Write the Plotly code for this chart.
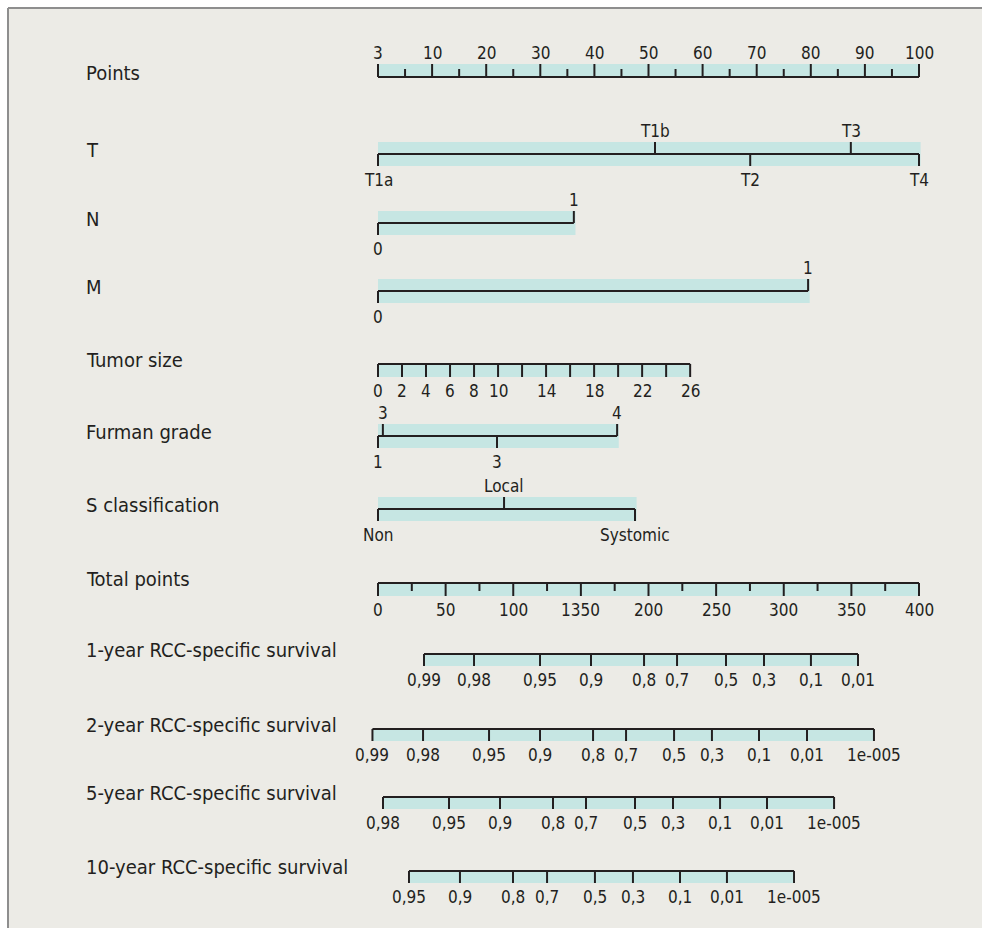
import plotly.graph_objects as go

# ---------------- data ----------------
row_names = ["Points", "T", "N", "M", "Tumor size", "Furman grade", "S classification",
             "Total points", "1-year RCC-specific survival", "2-year RCC-specific survival",
             "5-year RCC-specific survival", "10-year RCC-specific survival"]

points_ticks = [0, 10, 20, 30, 40, 50, 60, 70, 80, 90, 100]
points_labels = ["3", "10", "20", "30", "40", "50", "60", "70", "80", "90", "100"]
points_minor = [5, 15, 25, 35, 45, 55, 65, 75, 85, 95]

t_labels = ["T1a", "T1b", "T2", "T3", "T4"]
t_points = [0, 51.2, 68.8, 87.4, 100]

n_labels = ["0", "1"]
n_points = [0, 36.2]

m_labels = ["0", "1"]
m_points = [0, 79.5]

tumor_ticks = [0, 2, 4, 6, 8, 10, 12, 14, 16, 18, 20, 22, 24, 26]
tumor_labelled = [0, 2, 4, 6, 8, 10, 14, 18, 22, 26]
tumor_max_value = 26
tumor_max_points = 57.7

furman_labels = ["1", "3", "3", "4"]
furman_points = [0, 0.9, 22.0, 44.2]

s_labels = ["Non", "Local", "Systomic"]
s_points = [0, 23.3, 47.5]

total_ticks = [0, 50, 100, 150, 200, 250, 300, 350, 400]
total_labels = ["0", "50", "100", "1350", "200", "250", "300", "350", "400"]
total_minor = [25, 75, 125, 175, 225, 275, 325, 375]
total_max = 400
points_max = 100

surv1_labels = ["0,99", "0,98", "0,95", "0,9", "0,8", "0,7", "0,5", "0,3", "0,1", "0,01"]
surv1_total = [34.0, 71.0, 119.8, 157.5, 196.7, 221.1, 257.3, 285.4, 320.1, 354.9]

surv2_labels = ["0,99", "0,98", "0,95", "0,9", "0,8", "0,7", "0,5", "0,3", "0,1", "0,01", "1e-005"]
surv2_total = [-4.1, 33.3, 82.1, 119.8, 159.0, 183.4, 218.9, 246.9, 281.7, 317.2, 366.7]

surv5_labels = ["0,98", "0,95", "0,9", "0,8", "0,7", "0,5", "0,3", "0,1", "0,01", "1e-005"]
surv5_total = [3.7, 52.5, 90.2, 129.4, 153.8, 190.0, 218.1, 252.9, 287.6, 337.2]

surv10_labels = ["0,95", "0,9", "0,8", "0,7", "0,5", "0,3", "0,1", "0,01", "1e-005"]
surv10_total = [22.9, 60.6, 99.8, 125.0, 160.4, 188.5, 223.3, 258.0, 307.6]

# ---------------- styling / layout ----------------
W, H = 982, 928
X0_PX, PX_PER_PT = 378, 5.41
LINE_C = "#231f20"
BAND_C = "#c6e6e3"
PANEL_C = "#ecebe6"
BORDER_C = "#8e8e8e"
FONT = "DejaVu Sans Condensed, DejaVu Sans, sans-serif"
TICK_FS = 17
ROW_FS = 20

row_line_y = [77, 154, 223, 291, 364, 436, 509, 583, 654, 729, 797, 871]
LABEL_X_PX = 84
ROW_LABEL_DY = -4

shapes = []
annotations = []


def band(x0, x1, y0, y1):
    shapes.append(dict(type="rect", xref="x", yref="y", x0=x0, x1=x1, y0=y0, y1=y1,
                       fillcolor=BAND_C, line=dict(width=0), layer="above"))


def seg(x0, x1, y0, y1, w=2):
    shapes.append(dict(type="line", xref="x", yref="y", x0=x0, x1=x1, y0=y0, y1=y1,
                       line=dict(color=LINE_C, width=w), layer="above"))


def text(x, y, s, size=TICK_FS):
    annotations.append(dict(x=x, y=y, xref="x", yref="y", text=s, showarrow=False,
                            xanchor="center", yanchor="middle",
                            font=dict(family=FONT, size=size, color=LINE_C)))


# framed panel starting 8px from the top-left corner (border only on top/left)
shapes.append(dict(type="rect", xref="paper", yref="paper", x0=8 / W, x1=1,
                   y0=0, y1=1 - 8 / H, fillcolor=PANEL_C,
                   line=dict(width=0), layer="below"))
shapes.append(dict(type="line", xref="paper", yref="paper", x0=8 / W, x1=1,
                   y0=1 - 8 / H, y1=1 - 8 / H, line=dict(color=BORDER_C, width=2), layer="below"))
shapes.append(dict(type="line", xref="paper", yref="paper", x0=8 / W, x1=8 / W,
                   y0=0, y1=1 - 8 / H, line=dict(color=BORDER_C, width=2), layer="below"))

# row labels
for name, y in zip(row_names, row_line_y):
    annotations.append(dict(x=LABEL_X_PX / W, y=y + ROW_LABEL_DY, xref="paper", yref="y",
                            text=name, showarrow=False, xanchor="left", yanchor="middle",
                            font=dict(family=FONT, size=ROW_FS, color=LINE_C)))

MAJ, MIN, HB = 13, 8, 12

# Points axis (ticks up)
y = row_line_y[0]
band(points_ticks[0], points_ticks[-1], y - MAJ, y)
seg(points_ticks[0], points_ticks[-1], y, y)
for v, lab in zip(points_ticks, points_labels):
    seg(v, v, y, y - MAJ)
    text(v, y - 24, lab)
for v in points_minor:
    seg(v, v, y, y - MIN)


def categorical(y, labels, pts):
    order = sorted(range(len(pts)), key=lambda i: pts[i])
    lo, hi = min(pts), max(pts)
    band(lo, hi + 0.3, y - HB, y + HB)
    seg(lo, hi, y, y)
    for k, i in enumerate(order):
        if k % 2 == 0:
            seg(pts[i], pts[i], y, y + HB)
            text(pts[i], y + 26, labels[i])
        else:
            seg(pts[i], pts[i], y, y - HB)
            text(pts[i], y - 23, labels[i])


categorical(row_line_y[1], t_labels, t_points)
categorical(row_line_y[2], n_labels, n_points)
categorical(row_line_y[3], m_labels, m_points)

# Tumor size (ticks down)
y = row_line_y[4]
scale_t = tumor_max_points / tumor_max_value
band(0, tumor_max_value * scale_t, y, y + MAJ)
seg(0, tumor_max_value * scale_t, y, y)
for v in tumor_ticks:
    seg(v * scale_t, v * scale_t, y, y + MAJ)
for v in tumor_labelled:
    text(v * scale_t, y + 27, str(v))

categorical(row_line_y[5], furman_labels, furman_points)
categorical(row_line_y[6], s_labels, s_points)

# Total points (ticks down)
y = row_line_y[7]
tp = points_max / total_max
band(total_ticks[0] * tp, total_ticks[-1] * tp, y, y + MAJ)
seg(total_ticks[0] * tp, total_ticks[-1] * tp, y, y)
for v, lab in zip(total_ticks, total_labels):
    seg(v * tp, v * tp, y, y + MAJ)
    text(v * tp, y + 27, lab)
for v in total_minor:
    seg(v * tp, v * tp, y, y + MIN)


def survival(y, labels, totals):
    xs = [t * tp for t in totals]
    band(xs[0], xs[-1], y, y + HB)
    seg(xs[0], xs[-1], y, y)
    for x, lab in zip(xs, labels):
        seg(x, x, y, y + HB)
        text(x, y + 26, lab)


survival(row_line_y[8], surv1_labels, surv1_total)
survival(row_line_y[9], surv2_labels, surv2_total)
survival(row_line_y[10], surv5_labels, surv5_total)
survival(row_line_y[11], surv10_labels, surv10_total)

fig = go.Figure()
fig.add_trace(go.Scatter(x=[None], y=[None], mode="markers", showlegend=False, hoverinfo="skip"))
fig.update_layout(
    width=W, height=H, autosize=False,
    margin=dict(l=0, r=0, t=0, b=0, pad=0),
    paper_bgcolor="white", plot_bgcolor="rgba(0,0,0,0)",
    xaxis=dict(range=[-X0_PX / PX_PER_PT, (W - X0_PX) / PX_PER_PT], visible=False, fixedrange=True),
    yaxis=dict(range=[H, 0], visible=False, fixedrange=True),
    shapes=shapes, annotations=annotations, showlegend=False,
)
fig.write_html("out.html", config={"displayModeBar": False, "staticPlot": True},
               post_script="document.body.style.margin='0';document.body.style.overflow='hidden';")
